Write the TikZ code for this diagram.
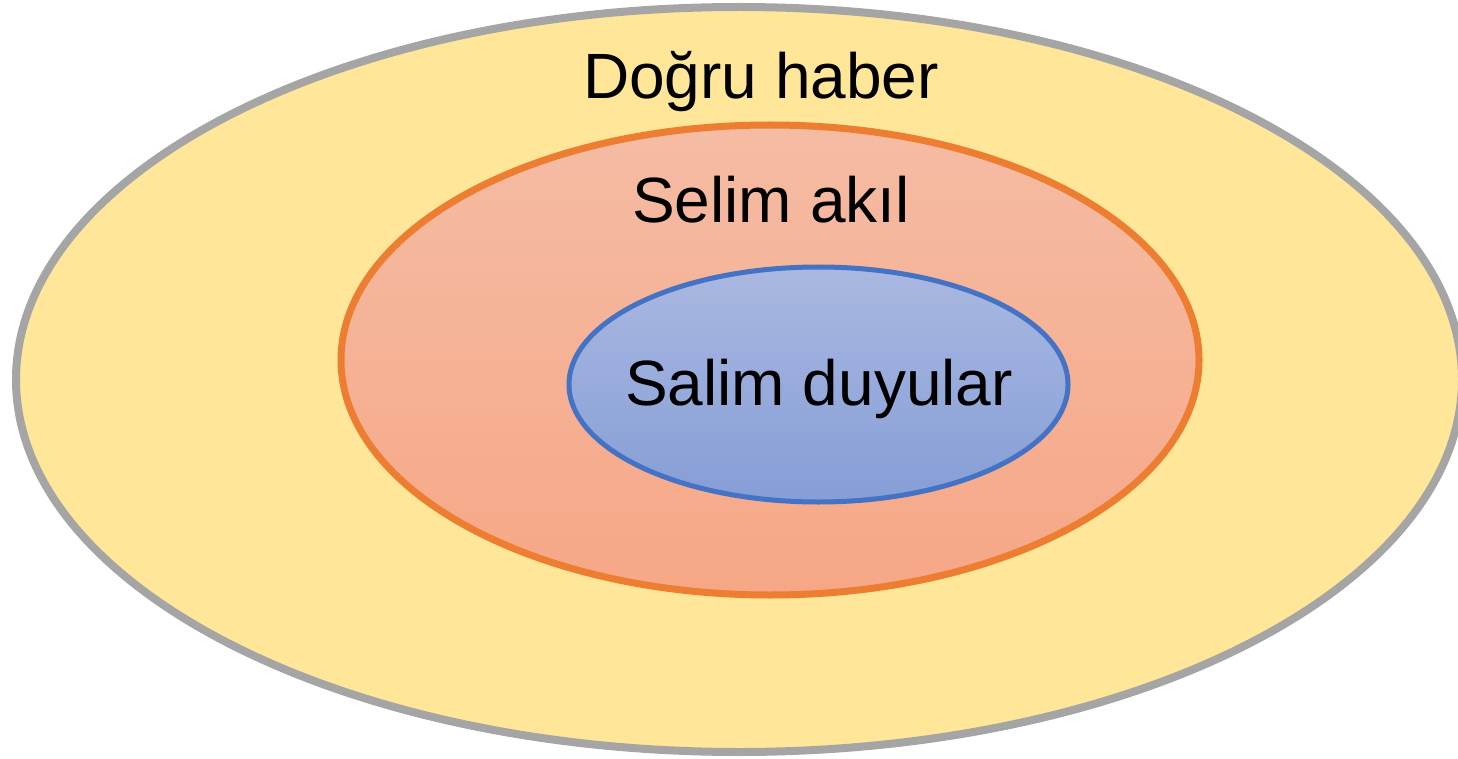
\documentclass[tikz,border=0pt]{standalone}
\usepackage{fontspec}
\setmainfont{Liberation Sans}
\usetikzlibrary{shapes.geometric}
\definecolor{outerfill}{HTML}{FFE699}
\definecolor{outerline}{HTML}{A5A5A5}
\definecolor{midtop}{RGB}{245,188,164}
\definecolor{midbot}{RGB}{246,167,134}
\definecolor{midline}{HTML}{ED7D31}
\definecolor{intop}{RGB}{170,184,225}
\definecolor{inbot}{RGB}{133,158,214}
\definecolor{inline}{HTML}{4472C4}
\tikzset{
  ring/.style={ellipse, inner sep=0pt, outer sep=0pt},
  lbl/.style={anchor=base, font=\fontsize{64}{70}\selectfont, inner sep=0pt}
}
\begin{document}
\begin{tikzpicture}[x=1pt,y=-1pt]
\useasboundingbox (0,0) rectangle (1458,759);
\node[ring, draw=outerline, fill=outerfill, line width=8pt,
      minimum width=1446pt, minimum height=745pt] (outer) at (739,379.5) {};
\node[ring, draw=midline, top color=midtop, bottom color=midbot, line width=7pt,
      minimum width=858pt, minimum height=470pt] (mid) at (770,360) {};
\node[ring, draw=inline, top color=intop, bottom color=inbot, line width=5pt,
      minimum width=499pt, minimum height=235pt] (inner) at (818.5,384.5) {};
\node[lbl] (t1) at (761,99) {Doğru haber};
\node[lbl] (t2) at (771,223) {Selim akıl};
\node[lbl] (t3) at (819,405) {Salim duyular};
\end{tikzpicture}
\end{document}
